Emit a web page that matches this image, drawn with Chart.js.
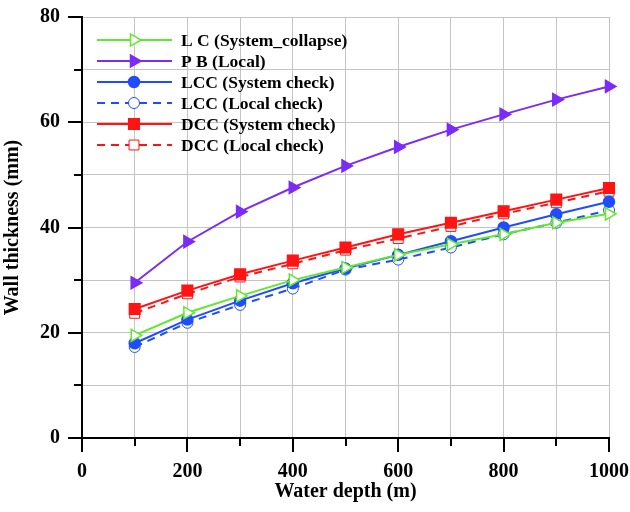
<!DOCTYPE html>
<html>
<head>
<meta charset="utf-8">
<script src="https://cdn.jsdelivr.net/npm/chart.js@4.4.1/dist/chart.umd.min.js"></script>
<style>
  html, body { margin: 0; padding: 0; background: #ffffff; }
  canvas { display: block; }
</style>
</head>
<body>
<canvas id="c" width="630" height="512"></canvas>
<script>
// ---- data ----
const depths = [100, 200, 300, 400, 500, 600, 700, 800, 900, 1000];
const lcSystemCollapse = [19.5, 23.8, 27.0, 30.0, 32.4, 34.8, 36.8, 38.7, 40.9, 42.6];
const pbLocal          = [29.5, 37.3, 43.0, 47.6, 51.7, 55.3, 58.6, 61.5, 64.3, 66.8];
const lccSystemCheck   = [18.0, 22.5, 26.1, 29.4, 32.2, 34.8, 37.4, 40.0, 42.5, 44.9];
const lccLocalCheck    = [17.3, 21.9, 25.3, 28.4, 32.0, 33.9, 36.2, 38.7, 40.9, 43.3];
const dccSystemCheck   = [24.5, 28.0, 31.1, 33.7, 36.2, 38.7, 40.9, 43.1, 45.3, 47.5];
const dccLocalCheck    = [23.7, 27.4, 30.6, 33.1, 35.7, 37.9, 40.2, 42.6, 44.7, 46.9];
const seriesLabels = ['L C (System_collapse)', 'P B (Local)', 'LCC (System check)',
                      'LCC (Local check)', 'DCC (System check)', 'DCC (Local check)'];
const xTitle = 'Water depth (m)';
const yTitle = 'Wall thickness (mm)';
const xMin = 0, xMax = 1000, xStep = 100, xLabelStep = 200;
const yMin = 0, yMax = 80, yStep = 10, yLabelStep = 20;

const FONT = "'Liberation Serif', 'Times New Roman', serif";
const GREEN = '#5fe82c', PURPLE = '#7b2cf5', BLUE = '#1f4cff', RED = '#ff1414';

function pts(vals) { return depths.map((d, i) => ({ x: d, y: vals[i] })); }

function ds(label, vals, color, opts) {
  return Object.assign({
    label: label,
    data: pts(vals),
    borderColor: color,
    backgroundColor: color,
    pointBorderColor: color,
    pointBackgroundColor: color,
    borderWidth: 2,
    pointRadius: 5.5,
    pointBorderWidth: 1.5,
    pointStyle: 'circle',
    pointRotation: 0,
    tension: 0,
    clip: false,
    fill: false
  }, opts);
}

const datasets = [
  ds(seriesLabels[0], lcSystemCollapse, GREEN, { pointStyle: 'triangle', pointRotation: 90, pointRadius: 7, pointBackgroundColor: '#ffffff' }),
  ds(seriesLabels[1], pbLocal, PURPLE, { pointStyle: 'triangle', pointRotation: 90, pointRadius: 7 }),
  ds(seriesLabels[2], lccSystemCheck, BLUE, { pointStyle: 'circle', pointRadius: 5.5 }),
  ds(seriesLabels[3], lccLocalCheck, BLUE, { pointStyle: 'circle', pointRadius: 5.5, pointBackgroundColor: '#ffffff', borderDash: [8, 6], pointBorderWidth: 1 }),
  ds(seriesLabels[4], dccSystemCheck, RED, { pointStyle: 'rect', pointRadius: 7.5 }),
  ds(seriesLabels[5], dccLocalCheck, RED, { pointStyle: 'rect', pointRadius: 7, pointBackgroundColor: '#ffffff', borderDash: [8, 6], pointBorderWidth: 1 })
];

// custom ticks (major/minor) and legend with line+marker
const decorPlugin = {
  id: 'decor',
  afterDraw(chart) {
    const ctx = chart.ctx;
    const xs = chart.scales.x, ys = chart.scales.y;
    const area = chart.chartArea;
    ctx.save();
    ctx.strokeStyle = '#000';
    ctx.lineWidth = 2;
    // x ticks
    for (let v = xMin; v <= xMax; v += xStep) {
      const px = Math.round(xs.getPixelForValue(v));
      const len = (v % xLabelStep === 0) ? 14 : 8;
      ctx.beginPath(); ctx.moveTo(px, area.bottom); ctx.lineTo(px, area.bottom + len); ctx.stroke();
    }
    // y ticks
    for (let v = yMin; v <= yMax; v += yStep) {
      const py = Math.round(ys.getPixelForValue(v));
      const len = (v % yLabelStep === 0) ? 14 : 8;
      ctx.beginPath(); ctx.moveTo(area.left, py); ctx.lineTo(area.left - len, py); ctx.stroke();
    }
    // legend
    const lx0 = 97, lx1 = 172, mx = 134, tx = 181, ty0 = 40, dy = 21;
    ctx.font = 'bold 17.5px ' + FONT;
    ctx.textBaseline = 'middle';
    ctx.textAlign = 'left';
    chart.data.datasets.forEach((d, i) => {
      const y = ty0 + i * dy;
      ctx.save();
      ctx.strokeStyle = d.borderColor;
      ctx.lineWidth = d.borderWidth;
      ctx.setLineDash(d.borderDash || []);
      ctx.beginPath(); ctx.moveTo(lx0, y); ctx.lineTo(lx1, y); ctx.stroke();
      ctx.setLineDash([]);
      ctx.fillStyle = d.pointBackgroundColor;
      ctx.strokeStyle = d.pointBorderColor;
      ctx.lineWidth = d.pointBorderWidth;
      Chart.helpers.drawPoint(ctx, {
        pointStyle: d.pointStyle,
        rotation: d.pointRotation,
        radius: d.pointRadius,
        borderWidth: d.pointBorderWidth
      }, mx, y);
      ctx.restore();
      ctx.fillStyle = '#000';
      ctx.fillText(d.label, tx, y + 1);
    });
    ctx.restore();
  }
};

new Chart(document.getElementById('c'), {
  type: 'line',
  data: { datasets: datasets },
  plugins: [decorPlugin],
  options: {
    responsive: false,
    devicePixelRatio: 1,
    animation: false,
    layout: { padding: { left: 0, right: 21, top: 17, bottom: 0 } },
    plugins: { legend: { display: false }, tooltip: { enabled: false } },
    scales: {
      x: {
        type: 'linear',
        min: xMin, max: xMax,
        afterFit(s) { s.height = 74; s.paddingLeft = 0; s.paddingRight = 0; },
        grid: { color: '#c4c4c4', lineWidth: 1, tickLength: 14, tickColor: 'rgba(0,0,0,0)' },
        border: { display: true, color: '#000', width: 2 },
        ticks: {
          stepSize: xStep, autoSkip: false, maxRotation: 0, padding: 8,
          color: '#000', font: { family: FONT, size: 20, weight: 'bold' },
          callback: v => (v % xLabelStep === 0 ? String(v) : '')
        },
        title: {
          display: true, text: xTitle, color: '#000',
          font: { family: FONT, size: 20, weight: 'bold' },
          padding: { top: 0, bottom: 8 }
        }
      },
      y: {
        type: 'linear',
        min: yMin, max: yMax,
        afterFit(s) { s.width = 82; s.paddingTop = 0; s.paddingBottom = 0; },
        grid: { color: '#c4c4c4', lineWidth: 1, tickLength: 14, tickColor: 'rgba(0,0,0,0)' },
        border: { display: true, color: '#000', width: 2 },
        ticks: {
          stepSize: yStep, autoSkip: false, padding: 8,
          color: '#000', font: { family: FONT, size: 20, weight: 'bold' },
          callback: v => (v % yLabelStep === 0 ? String(v) : '')
        },
        title: {
          display: true, text: yTitle, color: '#000',
          font: { family: FONT, size: 20, weight: 'bold' },
          padding: { top: 1, bottom: 0 }
        }
      }
    }
  }
});
</script>
</body>
</html>
